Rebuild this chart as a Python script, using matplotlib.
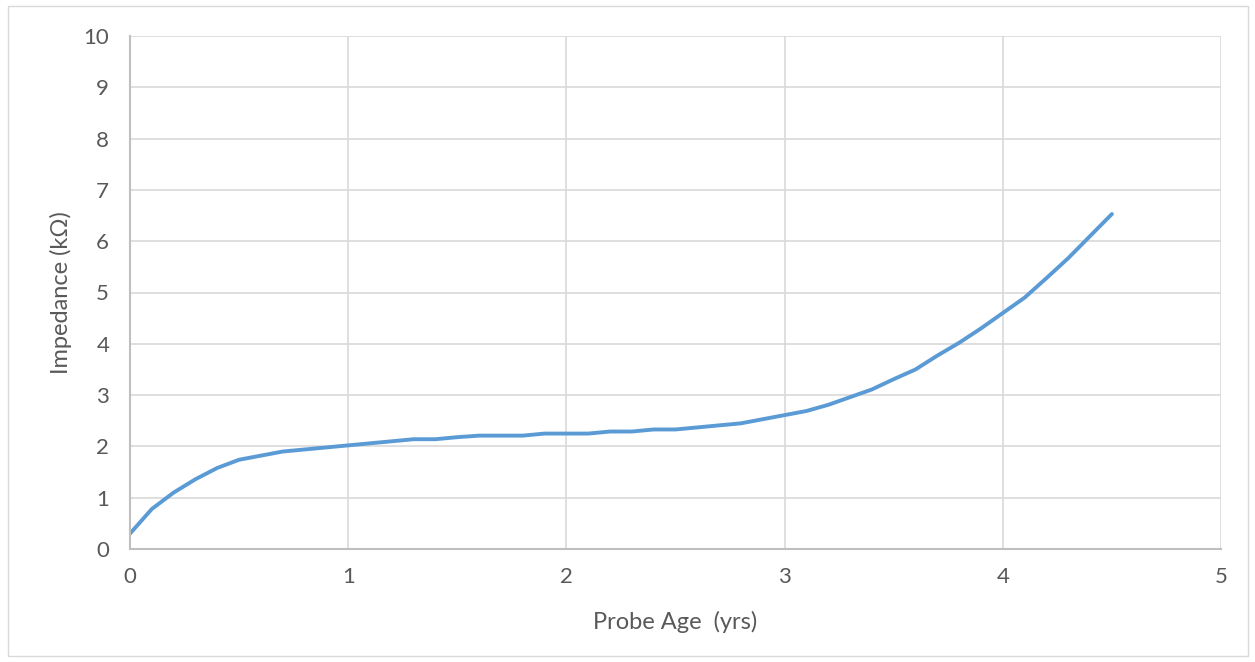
import matplotlib
matplotlib.use("Agg")
import matplotlib.pyplot as plt
from matplotlib.patches import Rectangle

age = [round(0.1 * i, 1) for i in range(46)]
impedance = [0.30, 0.78, 1.10, 1.36, 1.58, 1.74, 1.82, 1.90, 1.94, 1.98,
             2.02, 2.06, 2.10, 2.14, 2.14, 2.18, 2.21, 2.21, 2.21, 2.25,
             2.25, 2.25, 2.29, 2.29, 2.33, 2.33, 2.37, 2.41, 2.45, 2.53,
             2.61, 2.69, 2.81, 2.96, 3.11, 3.31, 3.50, 3.77, 4.02, 4.30,
             4.60, 4.90, 5.28, 5.67, 6.10, 6.53]
xticks = [0, 1, 2, 3, 4, 5]
yticks = list(range(11))

plt.rcParams['font.family'] = ['Lato', 'DejaVu Sans']
text_c = '#595959'

fig = plt.figure(figsize=(12.55, 6.62), dpi=100)
fig.patches.append(Rectangle((8/1255, 6/662), 1240/1255, 650/662, transform=fig.transFigure,
                             fill=False, edgecolor='#D9D9D9', linewidth=1))
ax = fig.add_axes([130/1255, (662-549)/662, (1221-130)/1255, (549-36)/662])
ax.plot(age, impedance, color='#5B9BD5', linewidth=2.8, solid_capstyle='round')
ax.set_xlim(0, 5)
ax.set_ylim(0, 10)
ax.set_xticks(xticks)
ax.set_yticks(yticks)
ax.grid(True, color='#D9D9D9', linewidth=1.2)
ax.set_axisbelow(True)
for s in ['top', 'right']:
    ax.spines[s].set_visible(False)
for s in ['left', 'bottom']:
    ax.spines[s].set_color('#BFBFBF')
    ax.spines[s].set_linewidth(1.5)
ax.tick_params(length=0, labelsize=16, colors=text_c)
ax.tick_params(axis='x', pad=13)
ax.tick_params(axis='y', pad=15)
ax.set_xlabel('Probe Age  (yrs)', fontsize=17, color=text_c, labelpad=17)
ax.set_ylabel('Impedance (kΩ)', fontsize=17, color=text_c, labelpad=8)
fig.savefig('out.png', dpi=100)
